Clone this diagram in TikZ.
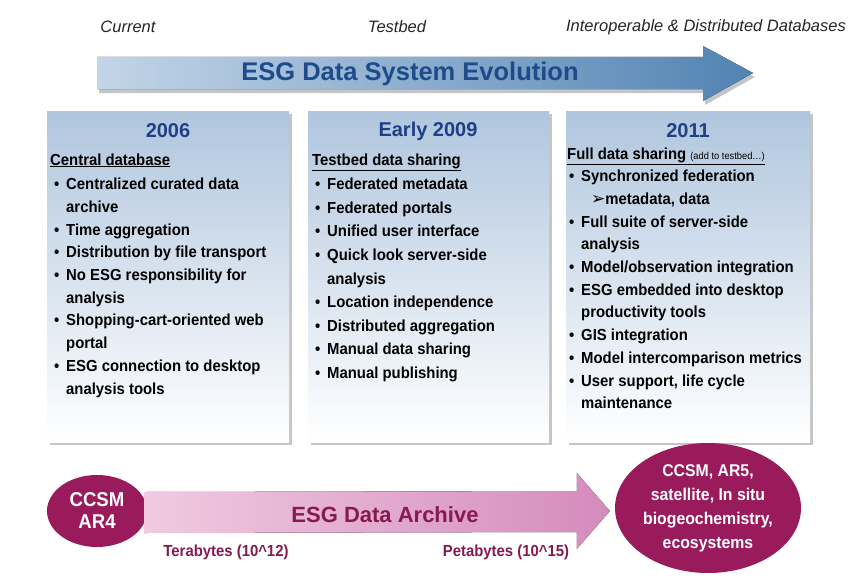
\documentclass[tikz,border=0pt]{standalone}
\usepackage{fontspec}
\setmainfont{Liberation Sans}
\newfontfamily\narrowsans[FakeStretch=0.93]{Liberation Sans}
\newfontfamily\symfont{DejaVu Sans}
\usetikzlibrary{shapes.geometric,shadows,calc}

\definecolor{evolight}{HTML}{C3D5E8}
\definecolor{evodark}{HTML}{5283B3}
\definecolor{evotxt}{HTML}{1E4C8A}
\definecolor{boxtop}{HTML}{B0C6DE}
\definecolor{titleblue}{HTML}{1F3F87}
\definecolor{archmag}{HTML}{9A1B5B}
\definecolor{archlight}{HTML}{F0CAE0}
\definecolor{archpink}{HTML}{D48BBD}
\definecolor{archtxt}{HTML}{861A50}

\newcommand{\bul}{\makebox[12pt][l]{\textbullet}}
\newcommand{\ind}{\hspace*{12pt}}

\tikzset{
  era/.style={font=\itshape\fontsize{16.5}{19}\selectfont, text=black!85},
  evoarrow/.style={left color=evolight, right color=evodark,
    drop shadow={shadow xshift=2pt, shadow yshift=-4pt, opacity=0.45}},
  evotext/.style={font=\bfseries\fontsize{25.5}{30}\selectfont, text=evotxt},
  panel/.style={top color=boxtop, bottom color=white,
    drop shadow={shadow xshift=3pt, shadow yshift=-3pt, opacity=0.45}},
  paneltitle/.style={font=\bfseries\fontsize{20}{24}\selectfont, text=titleblue},
  panelhead/.style={anchor=base west, inner sep=0pt,
    font=\narrowsans\bfseries\fontsize{16}{19}\selectfont},
  panellist/.style={anchor=north west, inner sep=0pt, align=left,
    font=\narrowsans\bfseries\fontsize{16}{22.7}\selectfont},
  blob/.style={ellipse, fill=archmag, text=white, inner sep=0pt, align=center},
  archarrow/.style={left color=archlight, right color=archpink},
  archlabel/.style={font=\narrowsans\bfseries\fontsize{16}{19}\selectfont, text=archtxt},
}

\begin{document}
\begin{tikzpicture}[x=1pt, y=-1pt]
  \useasboundingbox[fill=white] (0,0) rectangle (848,578);

  % stages
  \node[era] (cur) at (128,27) {Current};
  \node[era] (tst) at (397,27) {Testbed};
  \node[era] (iod) at (706,27) {Interoperable \& Distributed Databases};

  % evolution arrow
  \fill[evoarrow] (97,57) -- (703,57) -- (703,46) -- (753,73)
    -- (703,101) -- (703,89) -- (97,89) -- cycle;
  \node[evotext] (evo) at (410,74) {ESG Data System Evolution};

  % panels
  \fill[panel] (47,111) rectangle (289,442);
  \fill[panel] (308,111) rectangle (549,442);
  \fill[panel] (566,111) rectangle (810,442);

  \node[paneltitle] (t06) at (168,131) {2006};
  \node[paneltitle] (t09) at (428,131) {Early 2009};
  \node[paneltitle] (t11) at (688,131) {2011};

  \node[panelhead] (h06) at (50,165) {\underline{Central database}};
  \node[panelhead] (h09) at (312,165) {\underline{Testbed data sharing}};
  \node[panelhead] (h11) at (567,159) {\underline{Full data sharing
    {\mdseries\fontsize{10}{12}\selectfont (add to testbed\ldots)}}};

  \node[panellist] (l06) at (54,178) {%
    \bul Centralized curated data\\ \ind archive\\
    \bul Time aggregation\\
    \bul Distribution by file transport\\
    \bul No ESG responsibility for\\ \ind analysis\\
    \bul Shopping-cart-oriented web\\ \ind portal\\
    \bul ESG connection to desktop\\ \ind analysis tools};
  \node[panellist, font=\narrowsans\bfseries\fontsize{16}{23.6}\selectfont]
    (l09) at (315,178) {%
    \bul Federated metadata\\
    \bul Federated portals\\
    \bul Unified user interface\\
    \bul Quick look server-side\\ \ind analysis\\
    \bul Location independence\\
    \bul Distributed aggregation\\
    \bul Manual data sharing\\
    \bul Manual publishing};
  \node[panellist] (l11) at (569,170) {%
    \bul Synchronized federation\\
    \hspace*{22pt}{\symfont\fontsize{17}{16}\selectfont ➢}metadata, data\\
    \bul Full suite of server-side\\ \ind analysis\\
    \bul Model/observation integration\\
    \bul ESG embedded into desktop\\ \ind productivity tools\\
    \bul GIS integration\\
    \bul Model intercomparison metrics\\
    \bul User support, life cycle\\ \ind maintenance};

  % data archive
  \node[blob, minimum width=100, minimum height=72,
    font=\narrowsans\bfseries\fontsize{20}{22}\selectfont] (ar4) at (97,511) {CCSM\\AR4};
  \node[blob, minimum width=186, minimum height=130,
    font=\narrowsans\bfseries\fontsize{17}{24}\selectfont] (ar5) at (708,508)
    {CCSM, AR5,\\satellite, In situ\\biogeochemistry,\\ecosystems};

  \fill[archarrow] ($(ar4.east)+(-3,-19)$) -- ($(ar5.west)+(-38,-17)$)
    -- ($(ar5.west)+(-38,-35)$) -- ($(ar5.west)+(-5,3)$)
    -- ($(ar5.west)+(-38,41)$) -- ($(ar5.west)+(-38,24)$)
    -- ($(ar4.east)+(-3,22)$) -- cycle;
  \node[font=\bfseries\fontsize{22}{26}\selectfont, text=archtxt] (arc) at (385,515)
    {ESG Data Archive};

  \node[archlabel] (tera) at (226,552) {Terabytes (10\string^12)};
  \node[archlabel] (peta) at (506,552) {Petabytes (10\string^15)};
\end{tikzpicture}
\end{document}
